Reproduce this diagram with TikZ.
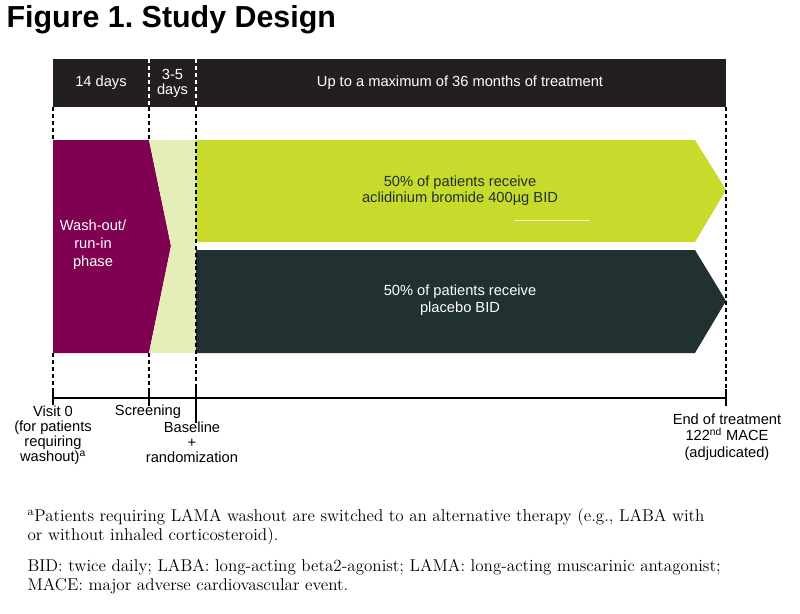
\documentclass[tikz,border=0pt]{standalone}
\usepackage{fontspec}
\setsansfont{Liberation Sans}
\usepackage{tikz}
\definecolor{washout}{RGB}{128,0,82}
\definecolor{screen}{RGB}{229,237,185}
\definecolor{drug}{RGB}{200,218,43}
\definecolor{placebo}{RGB}{33,49,50}
\definecolor{barblack}{RGB}{35,31,32}
\frenchspacing
\begin{document}
\begin{tikzpicture}[x = 0.75pt, y = -0.75pt, line width = 0.9pt,
                    phase/.style = {font = \sffamily\fontsize{11}{11.25}\selectfont, align = center, inner sep = 0pt},
                    whitephase/.style = {phase, text = white},
                    guide/.style = {dash pattern = on 3pt off 2.2pt, line width = 1.1pt},
                    note/.style = {anchor = base west, inner sep = 0pt, font = \fontsize{12.8}{14}\selectfont}]
  \useasboundingbox (0,0) rectangle (800,614);
  \node [anchor = base west, inner sep = 0pt, font = \sffamily\bfseries\fontsize{22.8}{26}\selectfont] (title) at (6,27) {Figure 1. Study Design};

  % header bar
  \fill [barblack] (53,59) rectangle (726,107);
  \node [whitephase] (D14) at (101,83) {14 days};
  \node [whitephase] (D35) at (172.5,83) {3-5\\days};
  \node [whitephase] (D36) at (460,83) {Up to a maximum of 36 months of treatment};

  % phases
  \fill [washout] (53,140) -- (149,140) -- (171,246) -- (149,353) -- (53,353) -- cycle;
  \fill [screen] (149,140) -- (196,140) -- (196,353) -- (149,353) -- (171,246) -- cycle;
  \fill [drug] (196,140) -- (695,140) -- (726,190) -- (695,242) -- (196,242) -- cycle;
  \fill [placebo] (196,250) -- (695,250) -- (726,301) -- (695,353) -- (196,353) -- cycle;
  \draw [white!80!drug, line width = 0.6pt] (515,220) -- (589,220);
  \node [whitephase, font = \sffamily\fontsize{11}{13.5}\selectfont] (W) at (93,245) {Wash-out/\\run-in\\phase};
  \node [phase, text = placebo, font = \sffamily\fontsize{11}{12}\selectfont] (A) at (460,191) {50\% of patients receive\\aclidinium bromide 400µg BID};
  \node [whitephase, font = \sffamily\fontsize{11}{12.5}\selectfont] (P) at (460,300) {50\% of patients receive\\placebo BID};

  % timeline
  \coordinate (V0) at (53,398);
  \coordinate (S0) at (149,398);
  \coordinate (B0) at (196,398);
  \coordinate (E0) at (726,398);
  \draw (V0) -- (E0);
  \draw ([yshift = 6pt]V0) -- ([yshift = -5.5pt]V0);
  \draw ([yshift = 6pt]S0) -- ([yshift = -6pt]S0);
  \draw ([yshift = 9pt]B0) -- ([yshift = -18.5pt]B0);
  \draw ([yshift = 6.5pt]E0) -- ([yshift = -6pt]E0);

  \draw [guide] (53,107) -- (53,140);
  \draw [guide] (53,353) -- ([yshift = 6pt]V0);
  \draw [guide, white] (149,59) -- (149,107);
  \draw [guide] (149,107) -- (149,140);
  \draw [guide] (149,353) -- ([yshift = 6pt]S0);
  \draw [guide, white] (196,59) -- (196,107);
  \draw [guide] (196,107) -- ([yshift = 9pt]B0);
  \draw [guide] (726,107) -- ([yshift = 6.5pt]E0);

  \node [phase] (V) at (53,435) {Visit 0\\(for patients\\requiring\\washout)\textsuperscript{a}};
  \node [phase] (S) at (148,412) {Screening};
  \node [phase] (B) at (192,442) {Baseline\\+\\randomization};
  \node [phase, font = \sffamily\fontsize{11}{12.3}\selectfont] (E) at (727,437) {End of treatment\\122\textsuperscript{nd} MACE\\(adjudicated)};

  % footnotes
  \node [note] (N1) at (27,521) {\textsuperscript{a}Patients requiring LAMA washout are switched to an alternative therapy (e.g., LABA with};
  \node [note] (N2) at (27,540) {or without inhaled corticosteroid).};
  \node [note] (N3) at (27,571) {BID: twice daily; LABA: long-acting beta2-agonist; LAMA: long-acting muscarinic antagonist;};
  \node [note] (N4) at (27,590) {MACE: major adverse cardiovascular event.};
\end{tikzpicture}
\end{document}
